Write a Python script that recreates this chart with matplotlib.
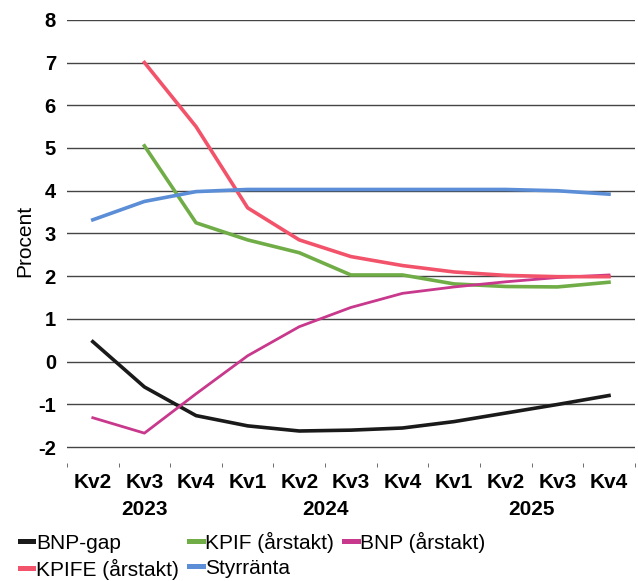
import matplotlib.pyplot as plt
from matplotlib.lines import Line2D

plt.rcParams['font.family'] = ['Liberation Sans', 'DejaVu Sans']
plt.rcParams['axes.unicode_minus'] = False

kvartal = ["Kv2", "Kv3", "Kv4", "Kv1", "Kv2", "Kv3", "Kv4", "Kv1", "Kv2", "Kv3", "Kv4"]
ar = ["2023", "2024", "2025"]
ar_pos = [1, 4.5, 8.5]  # mitten av varje år

bnp_gap = [0.47, -0.59, -1.26, -1.50, -1.62, -1.60, -1.55, -1.40, -1.20, -1.00, -0.79]
kpif = [None, 5.05, 3.25, 2.85, 2.55, 2.03, 2.03, 1.82, 1.76, 1.75, 1.86]
bnp = [-1.31, -1.67, -0.75, 0.14, 0.82, 1.27, 1.60, 1.75, 1.87, 1.97, 2.03]
kpife = [None, 7.0, 5.5, 3.6, 2.85, 2.46, 2.25, 2.10, 2.02, 1.99, 1.99]
styrranta = [3.32, 3.75, 3.98, 4.03, 4.03, 4.03, 4.03, 4.03, 4.03, 4.00, 3.92]

fig = plt.figure(figsize=(6.38, 5.81), dpi=100)
ax = fig.add_axes([0.105, 0.203, 0.89, 0.763])

x = list(range(len(kvartal)))
x2 = x[1:]

ax.plot(x, bnp_gap, color="#1a1a1a", lw=2.6, label="BNP-gap")
ax.plot(x2, kpif[1:], color="#70AD47", lw=2.6, label="KPIF (årstakt)")
ax.plot(x, bnp, color="#C8388C", lw=2.0, label="BNP (årstakt)")
ax.plot(x2, kpife[1:], color="#F2536A", lw=2.6, label="KPIFE (årstakt)")
ax.plot(x, styrranta, color="#5B8ED6", lw=2.6, label="Styrränta")

ax.set_xlim(-0.5, len(kvartal) - 0.5)
ax.set_ylim(-2.37, 8)
ax.set_yticks(range(-2, 9))
ax.yaxis.grid(True, color="#444444", lw=1.0)
ax.set_axisbelow(True)
for s in ax.spines.values():
    s.set_visible(False)

ax.set_xticks(x)
ax.set_xticklabels(kvartal, fontsize=15, fontweight="bold")
ax.tick_params(axis="x", length=0, pad=7)
ax.set_xticks([i - 0.5 for i in range(len(kvartal) + 1)], minor=True)
ax.tick_params(axis="x", which="minor", length=3, color="#555555")
ax.tick_params(axis="y", length=0, pad=8, labelsize=14.5)
for t in ax.get_yticklabels():
    t.set_fontweight("bold")

for p, a in zip(ar_pos, ar):
    ax.text(p, -0.104, a, transform=ax.get_xaxis_transform(), ha="center", va="center",
            fontsize=15, fontweight="bold")

ax.set_ylabel("Procent", fontsize=15, labelpad=3)

h, l = ax.get_legend_handles_labels()
order = [0, 3, 1, 4, 2]
leg = fig.legend([Line2D([], [], color=h[i].get_color(), lw=3.6) for i in order],
                 [l[i] for i in order], ncol=3, loc="upper left",
                 bbox_to_anchor=(0.031, 0.085), frameon=False, fontsize=15,
                 handlelength=0.65, handletextpad=0.12, columnspacing=0.5,
                 labelspacing=0.28, borderpad=0.0, borderaxespad=0.0)

fig.savefig("out.png", dpi=100)
